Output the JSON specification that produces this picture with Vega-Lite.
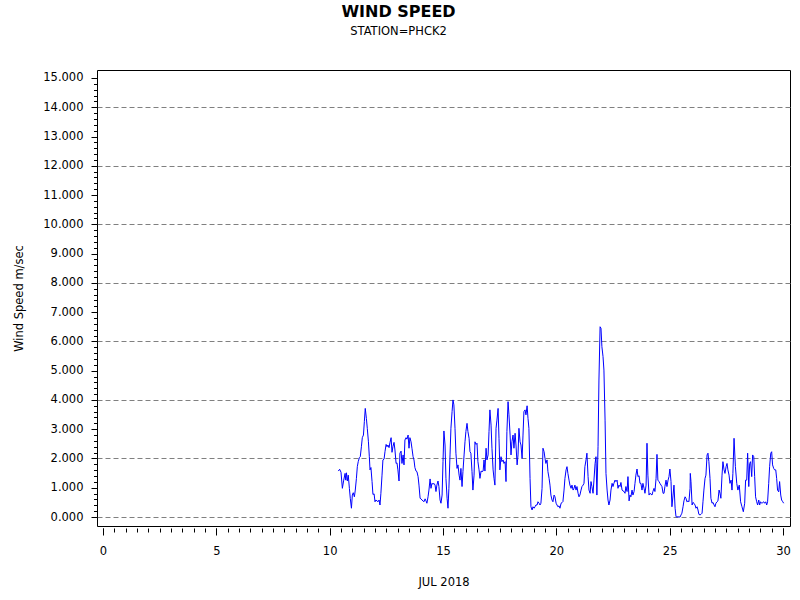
{
"$schema": "https://vega.github.io/schema/vega-lite/v6.json",
"width": 693, "height": 456,
"autosize": {"type": "none"},
"padding": {"left": 97, "top": 70, "right": 10, "bottom": 74},
"background": "white",
"title": {"text": "WIND SPEED", "subtitle": "STATION=PHCK2", "anchor": "middle", "dx": -45, "offset": 33, "font": "DejaVu Sans", "fontSize": 16, "fontWeight": "bold", "color": "black", "subtitleFont": "DejaVu Sans", "subtitleFontSize": 11.5, "subtitleColor": "black", "subtitlePadding": 6},
"data": {"values": [
{"d":10.38,"v":1.57},{"d":10.44,"v":1.63},{"d":10.50,"v":1.53},{"d":10.56,"v":0.98},{"d":10.62,"v":1.26},{"d":10.68,"v":1.49},{"d":10.71,"v":1.26},{"d":10.74,"v":1.51},{"d":10.78,"v":1.23},{"d":10.82,"v":1.43},{"d":10.87,"v":0.98},{"d":10.91,"v":0.64},{"d":10.96,"v":0.30},{"d":11.00,"v":0.75},{"d":11.04,"v":0.83},{"d":11.09,"v":0.69},{"d":11.13,"v":0.92},{"d":11.18,"v":1.32},{"d":11.22,"v":1.72},{"d":11.26,"v":1.89},{"d":11.31,"v":2.03},{"d":11.35,"v":2.06},{"d":11.40,"v":2.40},{"d":11.44,"v":2.71},{"d":11.49,"v":2.80},{"d":11.53,"v":3.26},{"d":11.57,"v":3.71},{"d":11.62,"v":3.37},{"d":11.66,"v":3.03},{"d":11.71,"v":2.57},{"d":11.75,"v":2.06},{"d":11.78,"v":1.61},{"d":11.82,"v":1.69},{"d":11.87,"v":1.21},{"d":11.91,"v":0.77},{"d":11.96,"v":0.79},{"d":12.00,"v":0.52},{"d":12.04,"v":0.58},{"d":12.09,"v":0.55},{"d":12.13,"v":0.52},{"d":12.18,"v":0.58},{"d":12.22,"v":0.41},{"d":12.26,"v":0.81},{"d":12.31,"v":1.43},{"d":12.35,"v":1.95},{"d":12.40,"v":1.98},{"d":12.44,"v":2.23},{"d":12.49,"v":2.48},{"d":12.53,"v":2.40},{"d":12.57,"v":2.46},{"d":12.62,"v":2.37},{"d":12.66,"v":2.54},{"d":12.71,"v":2.71},{"d":12.75,"v":2.21},{"d":12.79,"v":2.40},{"d":12.84,"v":2.55},{"d":12.88,"v":2.29},{"d":12.93,"v":1.83},{"d":12.97,"v":1.85},{"d":13.01,"v":1.61},{"d":13.06,"v":1.23},{"d":13.10,"v":2.18},{"d":13.15,"v":2.25},{"d":13.19,"v":1.83},{"d":13.24,"v":2.12},{"d":13.28,"v":1.78},
{"d":13.32,"v":2.63},{"d":13.37,"v":2.71},{"d":13.41,"v":2.66},{"d":13.46,"v":2.80},{"d":13.50,"v":2.35},{"d":13.54,"v":2.71},{"d":13.59,"v":2.57},{"d":13.63,"v":2.35},{"d":13.68,"v":2.06},{"d":13.72,"v":1.95},{"d":13.76,"v":1.69},{"d":13.81,"v":1.57},{"d":13.85,"v":1.55},{"d":13.90,"v":1.38},{"d":13.94,"v":1.09},{"d":13.99,"v":0.64},{"d":14.03,"v":0.62},{"d":14.07,"v":0.58},{"d":14.12,"v":0.55},{"d":14.16,"v":0.52},{"d":14.21,"v":0.62},{"d":14.25,"v":0.55},{"d":14.29,"v":0.47},{"d":14.34,"v":0.69},{"d":14.38,"v":0.92},{"d":14.43,"v":1.30},{"d":14.47,"v":0.98},{"d":14.51,"v":1.15},{"d":14.56,"v":1.12},{"d":14.60,"v":1.15},{"d":14.65,"v":1.09},{"d":14.69,"v":0.87},{"d":14.73,"v":1.09},{"d":14.78,"v":1.23},{"d":14.82,"v":1.04},{"d":14.87,"v":0.58},{"d":14.91,"v":0.47},{"d":14.96,"v":0.75},{"d":15.00,"v":1.89},{"d":15.04,"v":2.94},{"d":15.09,"v":2.46},{"d":15.13,"v":1.32},{"d":15.18,"v":0.64},{"d":15.22,"v":0.30},{"d":15.26,"v":0.98},{"d":15.31,"v":2.12},{"d":15.35,"v":3.03},{"d":15.40,"v":3.60},{"d":15.44,"v":4.00},{"d":15.48,"v":3.83},{"d":15.53,"v":3.03},{"d":15.57,"v":2.18},{"d":15.62,"v":1.66},{"d":15.66,"v":1.78},{"d":15.71,"v":1.43},{"d":15.75,"v":1.26},{"d":15.79,"v":1.66},{"d":15.84,"v":1.04},{"d":15.88,"v":1.55},{"d":15.93,"v":2.12},{"d":15.97,"v":2.57},{"d":16.01,"v":2.92},{"d":16.06,"v":3.20},{"d":16.10,"v":2.92},{"d":16.15,"v":2.69},{"d":16.19,"v":2.23},{"d":16.23,"v":2.18},{"d":16.28,"v":1.55},{"d":16.32,"v":0.92},{"d":16.37,"v":1.43},
{"d":16.41,"v":2.57},{"d":16.46,"v":2.48},{"d":16.50,"v":2.52},{"d":16.54,"v":1.89},{"d":16.59,"v":1.61},{"d":16.63,"v":1.32},{"d":16.68,"v":1.57},{"d":16.72,"v":1.55},{"d":16.77,"v":1.57},{"d":16.81,"v":1.95},{"d":16.85,"v":1.57},{"d":16.90,"v":2.35},{"d":16.94,"v":1.95},{"d":16.99,"v":2.12},{"d":17.03,"v":2.92},{"d":17.07,"v":3.66},{"d":17.12,"v":3.14},{"d":17.16,"v":2.35},{"d":17.21,"v":1.61},{"d":17.25,"v":1.32},{"d":17.29,"v":1.09},{"d":17.34,"v":3.03},{"d":17.38,"v":3.31},{"d":17.43,"v":3.71},{"d":17.47,"v":2.69},{"d":17.51,"v":1.61},{"d":17.56,"v":2.06},{"d":17.60,"v":1.89},{"d":17.65,"v":1.95},{"d":17.69,"v":1.83},{"d":17.74,"v":1.89},{"d":17.78,"v":1.21},{"d":17.82,"v":2.92},{"d":17.87,"v":3.94},{"d":17.91,"v":3.49},{"d":17.96,"v":2.80},{"d":18.00,"v":2.12},{"d":18.04,"v":2.57},{"d":18.09,"v":2.80},{"d":18.13,"v":2.35},{"d":18.18,"v":2.86},{"d":18.22,"v":2.46},{"d":18.27,"v":1.78},{"d":18.31,"v":2.12},{"d":18.35,"v":3.03},{"d":18.40,"v":2.57},{"d":18.44,"v":2.46},{"d":18.49,"v":2.00},{"d":18.53,"v":2.80},{"d":18.57,"v":3.60},{"d":18.62,"v":3.66},{"d":18.66,"v":3.49},{"d":18.71,"v":3.80},{"d":18.75,"v":3.37},{"d":18.79,"v":3.03},{"d":18.84,"v":1.32},{"d":18.88,"v":0.35},{"d":18.93,"v":0.24},{"d":18.97,"v":0.35},{"d":19.02,"v":0.30},{"d":19.06,"v":0.35},{"d":19.10,"v":0.41},{"d":19.15,"v":0.41},{"d":19.19,"v":0.52},{"d":19.24,"v":0.47},{"d":19.28,"v":0.41},{"d":19.32,"v":0.47},{"d":19.37,"v":0.98},{"d":19.41,"v":2.35},{"d":19.46,"v":2.23},
{"d":19.50,"v":2.00},{"d":19.54,"v":1.83},{"d":19.59,"v":1.95},{"d":19.63,"v":1.55},{"d":19.68,"v":1.32},{"d":19.72,"v":1.09},{"d":19.76,"v":0.75},{"d":19.81,"v":0.58},{"d":19.85,"v":0.52},{"d":19.90,"v":0.75},{"d":19.94,"v":0.69},{"d":19.99,"v":0.47},{"d":20.03,"v":0.41},{"d":20.07,"v":0.35},{"d":20.12,"v":0.38},{"d":20.16,"v":0.30},{"d":20.21,"v":0.47},{"d":20.25,"v":0.49},{"d":20.29,"v":0.52},{"d":20.34,"v":0.92},{"d":20.38,"v":1.32},{"d":20.43,"v":1.61},{"d":20.47,"v":1.72},{"d":20.51,"v":1.49},{"d":20.56,"v":1.26},{"d":20.60,"v":1.09},{"d":20.65,"v":0.98},{"d":20.69,"v":1.09},{"d":20.74,"v":0.92},{"d":20.78,"v":0.98},{"d":20.82,"v":1.09},{"d":20.87,"v":0.92},{"d":20.91,"v":1.04},{"d":20.96,"v":0.81},{"d":21.00,"v":0.69},{"d":21.04,"v":0.75},{"d":21.09,"v":0.92},{"d":21.13,"v":1.04},{"d":21.18,"v":1.09},{"d":21.22,"v":1.15},{"d":21.26,"v":1.72},{"d":21.31,"v":1.95},{"d":21.35,"v":2.18},{"d":21.40,"v":1.38},{"d":21.44,"v":0.92},{"d":21.49,"v":0.81},{"d":21.53,"v":1.21},{"d":21.57,"v":1.04},{"d":21.62,"v":0.81},{"d":21.66,"v":1.26},{"d":21.71,"v":1.83},{"d":21.75,"v":2.06},{"d":21.79,"v":0.75},{"d":21.84,"v":2.40},{"d":21.88,"v":4.68},{"d":21.93,"v":6.50},{"d":21.97,"v":6.45},{"d":22.01,"v":5.82},{"d":22.06,"v":5.48},{"d":22.10,"v":5.02},{"d":22.15,"v":3.31},{"d":22.19,"v":1.49},{"d":22.24,"v":0.92},{"d":22.28,"v":0.58},{"d":22.32,"v":0.41},{"d":22.37,"v":0.58},{"d":22.41,"v":0.92},{"d":22.46,"v":1.15},{"d":22.50,"v":1.04},{"d":22.54,"v":1.15},
{"d":22.59,"v":1.26},{"d":22.63,"v":1.21},{"d":22.68,"v":1.26},{"d":22.72,"v":0.98},{"d":22.76,"v":1.09},{"d":22.81,"v":1.04},{"d":22.85,"v":1.18},{"d":22.90,"v":0.92},{"d":22.94,"v":0.89},{"d":22.99,"v":0.87},{"d":23.03,"v":0.81},{"d":23.07,"v":1.04},{"d":23.12,"v":0.87},{"d":23.16,"v":1.38},{"d":23.21,"v":0.55},{"d":23.25,"v":0.75},{"d":23.29,"v":0.69},{"d":23.34,"v":0.92},{"d":23.38,"v":0.75},{"d":23.43,"v":0.87},{"d":23.47,"v":1.15},{"d":23.51,"v":1.43},{"d":23.56,"v":1.64},{"d":23.60,"v":1.38},{"d":23.65,"v":1.41},{"d":23.69,"v":1.15},{"d":23.73,"v":1.15},{"d":23.78,"v":0.92},{"d":23.82,"v":1.15},{"d":23.87,"v":0.98},{"d":23.91,"v":0.81},{"d":23.96,"v":1.09},{"d":24.00,"v":2.52},{"d":24.04,"v":1.43},{"d":24.09,"v":0.75},{"d":24.13,"v":0.81},{"d":24.18,"v":0.78},{"d":24.22,"v":0.75},{"d":24.26,"v":0.87},{"d":24.31,"v":0.98},{"d":24.35,"v":0.87},{"d":24.40,"v":1.32},{"d":24.44,"v":2.14},{"d":24.48,"v":1.26},{"d":24.53,"v":1.21},{"d":24.57,"v":1.15},{"d":24.62,"v":1.09},{"d":24.66,"v":1.04},{"d":24.71,"v":0.81},{"d":24.75,"v":0.81},{"d":24.79,"v":1.04},{"d":24.84,"v":1.26},{"d":24.88,"v":1.04},{"d":24.93,"v":1.26},{"d":24.97,"v":1.38},{"d":25.01,"v":1.64},{"d":25.06,"v":1.21},{"d":25.10,"v":0.35},{"d":25.15,"v":0.75},{"d":25.19,"v":1.09},{"d":25.24,"v":0.30},{"d":25.28,"v":0.01},{"d":25.32,"v":0.00},{"d":25.37,"v":0.01},{"d":25.41,"v":0.00},{"d":25.46,"v":0.00},{"d":25.50,"v":0.07},{"d":25.54,"v":0.13},{"d":25.59,"v":0.35},{"d":25.63,"v":0.55},
{"d":25.68,"v":0.69},{"d":25.72,"v":0.64},{"d":25.76,"v":0.52},{"d":25.81,"v":0.55},{"d":25.85,"v":0.52},{"d":25.90,"v":0.98},{"d":25.91,"v":1.49},{"d":25.94,"v":1.21},{"d":25.99,"v":0.41},{"d":26.03,"v":0.50},{"d":26.07,"v":0.47},{"d":26.12,"v":0.41},{"d":26.16,"v":0.30},{"d":26.21,"v":0.35},{"d":26.25,"v":0.24},{"d":26.29,"v":0.09},{"d":26.34,"v":0.07},{"d":26.38,"v":0.09},{"d":26.43,"v":0.13},{"d":26.47,"v":0.52},{"d":26.51,"v":0.92},{"d":26.56,"v":1.32},{"d":26.60,"v":1.43},{"d":26.65,"v":2.12},{"d":26.69,"v":2.18},{"d":26.73,"v":1.89},{"d":26.78,"v":1.32},{"d":26.82,"v":0.64},{"d":26.87,"v":0.47},{"d":26.91,"v":0.50},{"d":26.96,"v":0.41},{"d":27.00,"v":0.35},{"d":27.04,"v":0.47},{"d":27.09,"v":0.52},{"d":27.13,"v":0.55},{"d":27.18,"v":0.92},{"d":27.22,"v":0.81},{"d":27.26,"v":0.64},{"d":27.31,"v":1.43},{"d":27.35,"v":1.89},{"d":27.40,"v":1.61},{"d":27.44,"v":1.49},{"d":27.49,"v":1.72},{"d":27.53,"v":1.83},{"d":27.57,"v":1.61},{"d":27.62,"v":1.43},{"d":27.66,"v":1.15},{"d":27.71,"v":1.26},{"d":27.75,"v":0.92},{"d":27.79,"v":1.49},
{"d":27.84,"v":2.69},{"d":27.90,"v":1.72},{"d":27.96,"v":1.15},{"d":28.01,"v":0.92},{"d":28.07,"v":1.09},{"d":28.13,"v":0.52},{"d":28.19,"v":0.35},{"d":28.25,"v":0.18},{"d":28.31,"v":0.47},{"d":28.35,"v":1.26},{"d":28.40,"v":1.26},{"d":28.44,"v":2.18},{"d":28.49,"v":1.04},{"d":28.53,"v":1.83},{"d":28.57,"v":1.89},{"d":28.62,"v":1.38},{"d":28.66,"v":2.12},{"d":28.71,"v":2.06},{"d":28.75,"v":1.38},{"d":28.79,"v":0.69},{"d":28.84,"v":0.52},{"d":28.88,"v":0.41},{"d":28.93,"v":0.58},{"d":28.97,"v":0.41},{"d":29.01,"v":0.52},{"d":29.06,"v":0.47},{"d":29.10,"v":0.49},{"d":29.15,"v":0.52},{"d":29.19,"v":0.47},{"d":29.24,"v":0.52},{"d":29.28,"v":0.41},{"d":29.32,"v":0.52},{"d":29.37,"v":1.15},{"d":29.41,"v":1.72},{"d":29.46,"v":2.18},{"d":29.50,"v":2.23},{"d":29.54,"v":1.78},{"d":29.59,"v":1.66},{"d":29.63,"v":1.61},{"d":29.68,"v":1.61},{"d":29.72,"v":1.32},{"d":29.76,"v":0.92},{"d":29.81,"v":0.86},{"d":29.85,"v":1.21},{"d":29.90,"v":0.75},{"d":29.94,"v":0.58},{"d":29.99,"v":0.52},{"d":30.03,"v":0.47}
]},
"config": {
  "view": {"stroke": "black", "strokeWidth": 1},
  "axis": {"labelFont": "DejaVu Sans", "titleFont": "DejaVu Sans", "labelColor": "black", "titleColor": "black", "tickColor": "black", "domainColor": "black", "titleFontWeight": "normal", "labelFontSize": 11.5, "titleFontSize": 11.5}
},
"layer": [
  {
    "mark": {"type": "line", "opacity": 0},
    "encoding": {
      "x": {"field": "d", "type": "quantitative", "scale": {"domain": [-0.265, 30.309], "nice": false, "zero": false}, "axis": null},
      "y": {"field": "v", "type": "quantitative", "scale": {"domain": [-0.3075, 15.273], "nice": false, "zero": false},
            "axis": {"orient": "left", "values": [0, 2, 4, 6, 8, 10, 12, 14], "grid": true, "gridDash": [5, 3], "gridColor": "#808080", "gridWidth": 1, "gridOpacity": 1, "ticks": false, "labels": false, "domain": false, "title": null}}
    }
  },
  {
    "mark": {"type": "line", "opacity": 0},
    "encoding": {
      "x": {"field": "d", "type": "quantitative", "scale": {"domain": [-0.265, 30.309], "nice": false, "zero": false},
            "axis": {"orient": "bottom", "values": [0,0.5,1,1.5,2,2.5,3,3.5,4,4.5,5,5.5,6,6.5,7,7.5,8,8.5,9,9.5,10,10.5,11,11.5,12,12.5,13,13.5,14,14.5,15,15.5,16,16.5,17,17.5,18,18.5,19,19.5,20,20.5,21,21.5,22,22.5,23,23.5,24,24.5,25,25.5,26,26.5,27,27.5,28,28.5,29,29.5,30], "tickSize": 4, "offset": 2, "labels": false, "domain": false, "grid": false, "title": null}},
      "y": {"field": "v", "type": "quantitative", "scale": {"domain": [-0.3075, 15.273], "nice": false, "zero": false},
            "axis": {"orient": "left", "values": [0,0.2,0.4,0.6,0.8,1,1.2,1.4,1.6,1.8,2,2.2,2.4,2.6,2.8,3,3.2,3.4,3.6,3.8,4,4.2,4.4,4.6,4.8,5,5.2,5.4,5.6,5.8,6,6.2,6.4,6.6,6.8,7,7.2,7.4,7.6,7.8,8,8.2,8.4,8.6,8.8,9,9.2,9.4,9.6,9.8,10,10.2,10.4,10.6,10.8,11,11.2,11.4,11.6,11.8,12,12.2,12.4,12.6,12.8,13,13.2,13.4,13.6,13.8,14,14.2,14.4,14.6,14.8,15], "tickSize": 3.5, "labels": false, "domain": false, "grid": false, "title": null}}
    }
  },
  {
    "mark": {"type": "line", "color": "#0000ff", "strokeWidth": 1},
    "encoding": {
      "x": {"field": "d", "type": "quantitative", "scale": {"domain": [-0.265, 30.309], "nice": false, "zero": false},
            "axis": {"orient": "bottom", "values": [0, 5, 10, 15, 20, 25, 30], "tickSize": 7, "offset": 2, "domain": false, "grid": false, "labelPadding": 10, "title": "JUL 2018", "titleY": 57, "titleBaseline": "alphabetic"}},
      "y": {"field": "v", "type": "quantitative", "scale": {"domain": [-0.3075, 15.273], "nice": false, "zero": false},
            "axis": {"orient": "left", "values": [0,1,2,3,4,5,6,7,8,9,10,11,12,13,14,15], "format": ".3f", "tickSize": 6, "labelPadding": 8, "domain": false, "grid": false, "title": "Wind Speed m/sec", "titleX": -73, "titleY": 228, "titleAngle": -90, "titleAlign": "center", "titleBaseline": "bottom"}}
    }
  }
],
"resolve": {"axis": {"x": "independent", "y": "independent"}}
}
